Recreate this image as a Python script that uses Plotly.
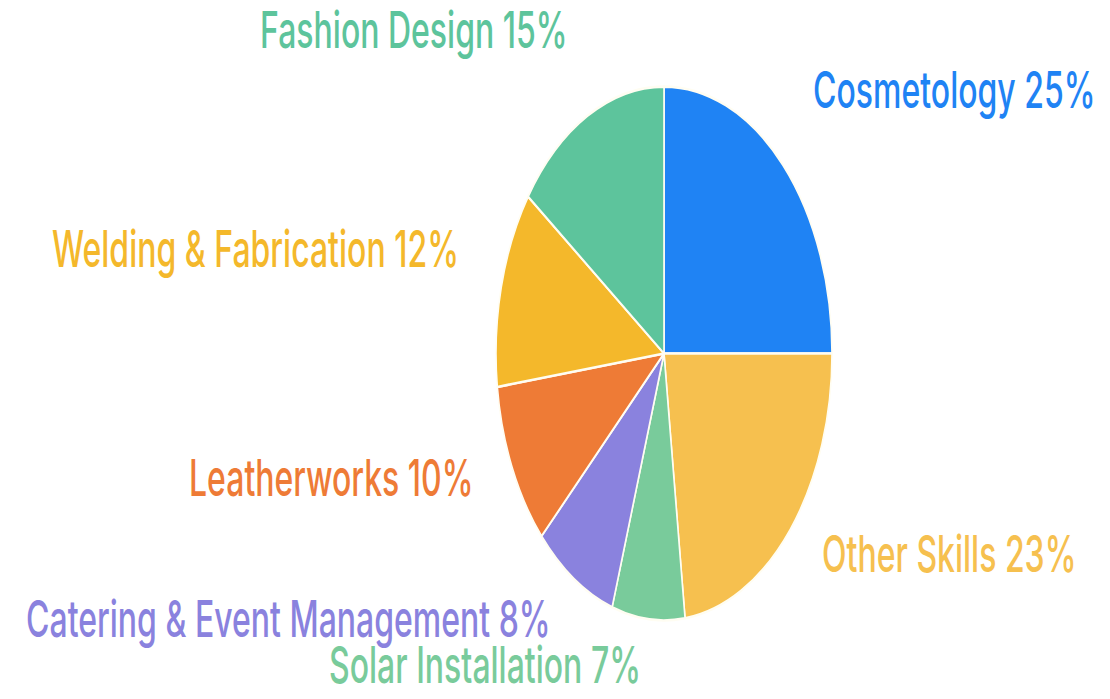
import plotly.graph_objects as go

# Share of trainees by vocational skill (percent)
skills = [
    "Cosmetology",
    "Other Skills",
    "Solar Installation",
    "Catering & Event Management",
    "Leatherworks",
    "Welding & Fabrication",
    "Fashion Design",
]
shares = [25, 23, 7, 8, 10, 12, 15]

slice_colors = ["#1F83F4", "#F6C04F", "#79CB9B", "#8A82DE", "#EE7B36", "#F4B82B", "#5DC49C"]

# Final canvas size and the vertical stretch applied to the drawn chart
W, H = 1110, 699
STRETCH = 1.5886
H0 = round(H / STRETCH)

# Pie centre and radius on the final canvas (pixels)
CX, CY, R = 664, 353.5, 168

# Label centres on the final canvas (pixels)
label_xy = {
    "Cosmetology": (954, 89),
    "Other Skills": (949, 553),
    "Solar Installation": (485, 665),
    "Catering & Event Management": (288, 618),
    "Leatherworks": (331, 477),
    "Welding & Fabrication": (255, 248),
    "Fashion Design": (414, 30),
}

cy0 = H0 - CY / STRETCH  # centre measured from the bottom, unstretched
fig = go.Figure(
    go.Pie(
        labels=skills,
        values=shares,
        sort=False,
        direction="clockwise",
        rotation=0,
        marker=dict(colors=slice_colors, line=dict(color="#FFFDF2", width=1.6)),
        textinfo="none",
        hoverinfo="skip",
        showlegend=False,
        domain=dict(
            x=[(CX - R) / W, (CX + R) / W],
            y=[(cy0 - R) / H0, (cy0 + R) / H0],
        ),
    )
)

for name, share, color in zip(skills, shares, slice_colors):
    px, py = label_xy[name]
    fig.add_annotation(
        x=px / W,
        y=1 - (py / STRETCH) / H0,
        xref="paper",
        yref="paper",
        text=f"{name} {share}%",
        showarrow=False,
        xanchor="center",
        yanchor="middle",
        font=dict(family="Inter, Roboto, sans-serif", size=32, weight=500, color=color),
    )

fig.update_layout(
    width=W,
    height=H0,
    margin=dict(l=0, r=0, t=0, b=0),
    paper_bgcolor="white",
    plot_bgcolor="white",
)

# Stretch the rendered chart vertically to fill the page
post = f"""
document.body.style.margin = '0';
document.documentElement.style.overflow = 'hidden';
var gd = document.getElementById('{{plot_id}}');
gd.style.transformOrigin = '0 0';
gd.style.transform = 'scaleY({STRETCH})';
"""

fig.write_html("out.html", post_script=post, config={"displayModeBar": False})
